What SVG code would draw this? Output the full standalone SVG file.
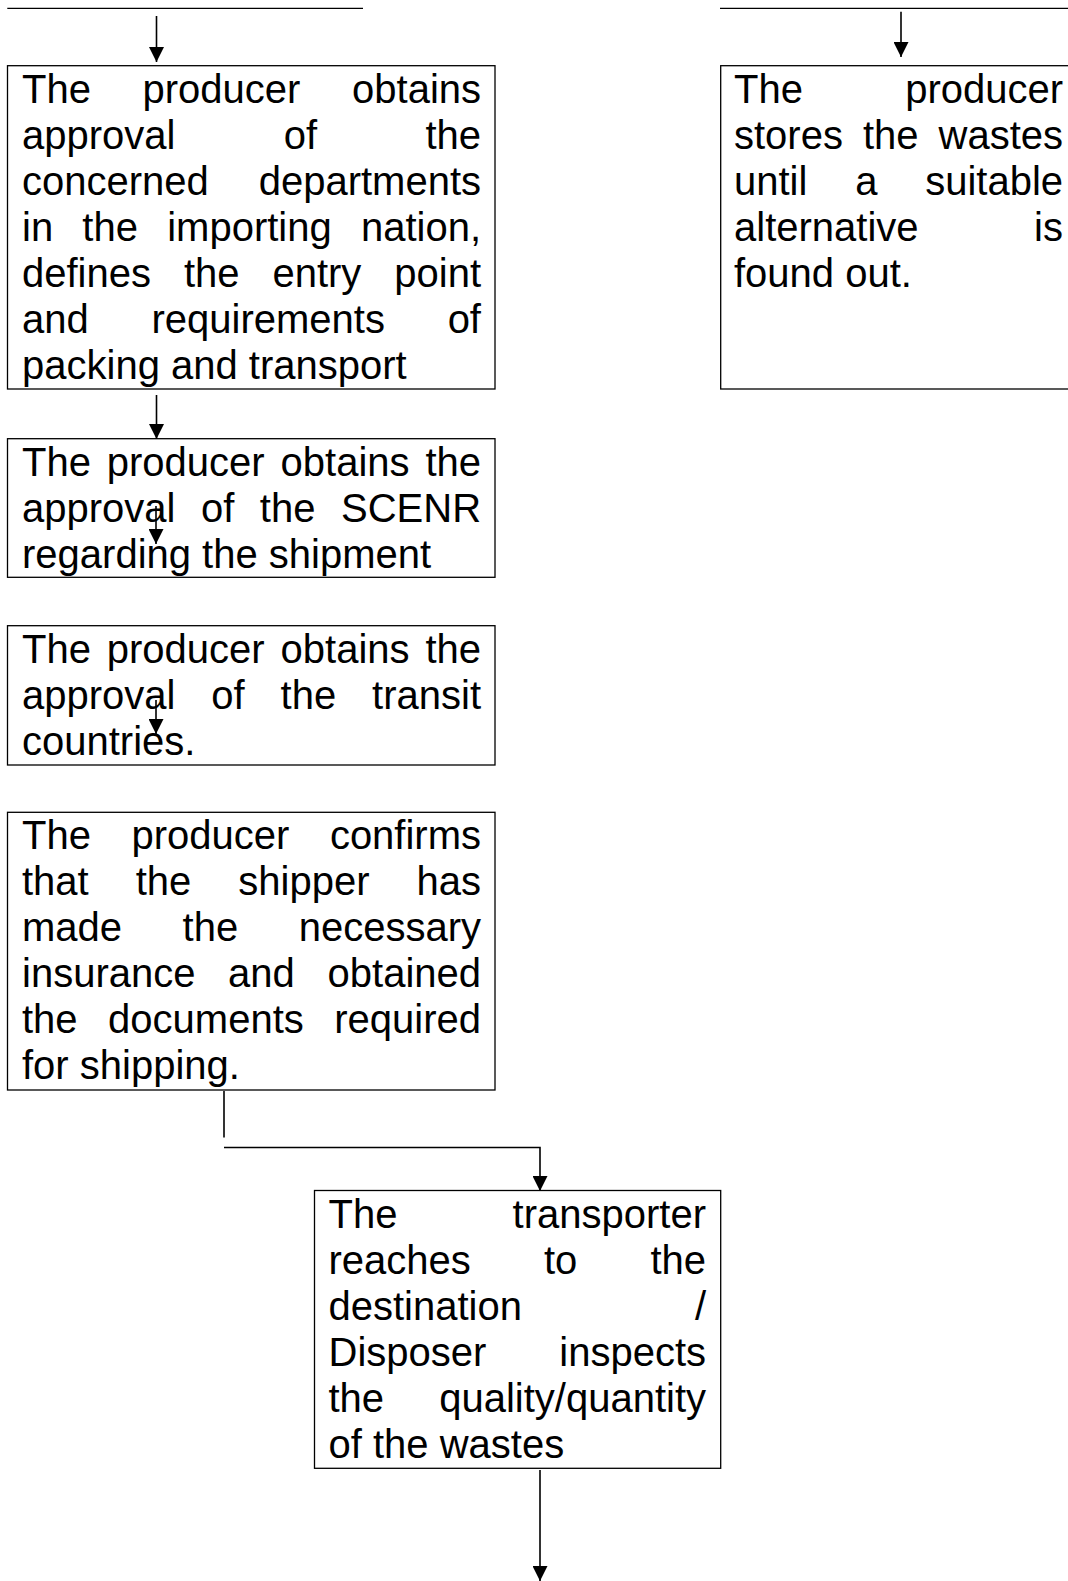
<svg xmlns="http://www.w3.org/2000/svg" width="1068" height="1581" viewBox="0 0 1068 1581">
<style>
.bg{fill:#fff}
.box{fill:#fff;stroke:#000;stroke-width:1.3}
.t{font-family:"Liberation Sans",Arial,sans-serif;font-size:40px;fill:#000;font-kerning:none}
.ln{fill:none;stroke:#000;stroke-width:1.3}
.ar{fill:none;stroke:#000;stroke-width:1.6;marker-end:url(#ah)}
</style>
<defs>
<marker id="ah" markerUnits="userSpaceOnUse" viewBox="0 0 15 15" refX="15" refY="7.5" markerWidth="15" markerHeight="15" orient="auto">
<path d="M0,0 L15,7.5 L0,15 z" fill="#000"/>
</marker>
</defs>
<rect class="bg" x="0" y="0" width="1068" height="1581"/>

<g id="n1">
<rect class="box" x="7.5" y="65.7" width="487.5" height="323.3"/>
<text class="t" y="102.7"><tspan x="22">The</tspan><tspan x="142.56">producer</tspan><tspan x="352.04">obtains</tspan></text>
<text class="t" y="148.7"><tspan x="22">approval</tspan><tspan x="283.72">of</tspan><tspan x="425.4">the</tspan></text>
<text class="t" y="194.7"><tspan x="22">concerned</tspan><tspan x="258.68">departments</tspan></text>
<text class="t" y="240.7"><tspan x="22">in</tspan><tspan x="82.36">the</tspan><tspan x="167.2">importing</tspan><tspan x="360.92">nation,</tspan></text>
<text class="t" y="286.7"><tspan x="22">defines</tspan><tspan x="183.89">the</tspan><tspan x="272.42">entry</tspan><tspan x="394.28">point</tspan></text>
<text class="t" y="332.7"><tspan x="22">and</tspan><tspan x="151.48">requirements</tspan><tspan x="447.64">of</tspan></text>
<text class="t" x="22" y="378.7">packing and transport</text>
</g>

<g id="n2">
<rect class="box" x="720.7" y="65.7" width="400" height="323.3"/>
<text class="t" y="102.7"><tspan x="734">The</tspan><tspan x="905.16">producer</tspan></text>
<text class="t" y="148.7"><tspan x="734">stores</tspan><tspan x="862.92">the</tspan><tspan x="938.52">wastes</tspan></text>
<text class="t" y="194.7"><tspan x="734">until</tspan><tspan x="855.14">a</tspan><tspan x="925.16">suitable</tspan></text>
<text class="t" y="240.7"><tspan x="734">alternative</tspan><tspan x="1034.12">is</tspan></text>
<text class="t" x="734" y="286.7">found out.</text>
</g>

<g id="n3">
<rect class="box" x="7.5" y="438.7" width="487.5" height="138.6"/>
<text class="t" y="475.7"><tspan x="22">The</tspan><tspan x="106.81">producer</tspan><tspan x="280.54">obtains</tspan><tspan x="425.4">the</tspan></text>
<text class="t" y="521.7"><tspan x="22">approval</tspan><tspan x="200.95">of</tspan><tspan x="259.86">the</tspan><tspan x="341">SCENR</tspan></text>
<text class="t" x="22" y="567.7">regarding the shipment</text>
</g>

<g id="n4">
<rect class="box" x="7.5" y="625.7" width="487.5" height="139.3"/>
<text class="t" y="662.7"><tspan x="22">The</tspan><tspan x="106.81">producer</tspan><tspan x="280.54">obtains</tspan><tspan x="425.4">the</tspan></text>
<text class="t" y="708.7"><tspan x="22">approval</tspan><tspan x="211.31">of</tspan><tspan x="280.58">the</tspan><tspan x="372.08">transit</tspan></text>
<text class="t" x="22" y="754.7">countries.</text>
</g>

<g id="n5">
<rect class="box" x="7.5" y="812.3" width="487.5" height="277.7"/>
<text class="t" y="849.3"><tspan x="22">The</tspan><tspan x="131.48">producer</tspan><tspan x="329.88">confirms</tspan></text>
<text class="t" y="895.3"><tspan x="22">that</tspan><tspan x="135.73">the</tspan><tspan x="238.34">shipper</tspan><tspan x="416.52">has</tspan></text>
<text class="t" y="941.3"><tspan x="22">made</tspan><tspan x="182.58">the</tspan><tspan x="298.72">necessary</tspan></text>
<text class="t" y="987.3"><tspan x="22">insurance</tspan><tspan x="228.12">and</tspan><tspan x="327.56">obtained</tspan></text>
<text class="t" y="1033.3"><tspan x="22">the</tspan><tspan x="108.12">documents</tspan><tspan x="334.28">required</tspan></text>
<text class="t" x="22" y="1079.3">for shipping.</text>
</g>

<g id="n6">
<rect class="box" x="314.5" y="1190.5" width="406.2" height="277.8"/>
<text class="t" y="1227.5"><tspan x="328.5">The</tspan><tspan x="512.6">transporter</tspan></text>
<text class="t" y="1273.5"><tspan x="328.5">reaches</tspan><tspan x="543.91">to</tspan><tspan x="650.4">the</tspan></text>
<text class="t" y="1319.5"><tspan x="328.5">destination</tspan><tspan x="694.88">/</tspan></text>
<text class="t" y="1365.5"><tspan x="328.5">Disposer</tspan><tspan x="559.28">inspects</tspan></text>
<text class="t" y="1411.5"><tspan x="328.5">the</tspan><tspan x="439.2">quality/quantity</tspan></text>
<text class="t" x="328.5" y="1457.5">of the wastes</text>
</g>

<g id="connectors">
<line class="ln" x1="7.3" y1="8.3" x2="363" y2="8.3"/>
<line class="ln" x1="720" y1="8.3" x2="1068" y2="8.3"/>
<line class="ar" x1="156.5" y1="16" x2="156.5" y2="62"/>
<line class="ar" x1="901" y1="11.7" x2="901" y2="57"/>
<line class="ar" x1="156.5" y1="395" x2="156.5" y2="439"/>
<line class="ar" x1="156" y1="506" x2="156" y2="544"/>
<line class="ar" x1="156" y1="700" x2="156" y2="734"/>
<line class="ln" x1="224" y1="1091" x2="224" y2="1137.5" style="stroke-width:1.6"/>
<polyline class="ar" points="224,1147.5 540,1147.5 540,1191"/>
<line class="ar" x1="540" y1="1470" x2="540" y2="1581"/>
</g>
</svg>
